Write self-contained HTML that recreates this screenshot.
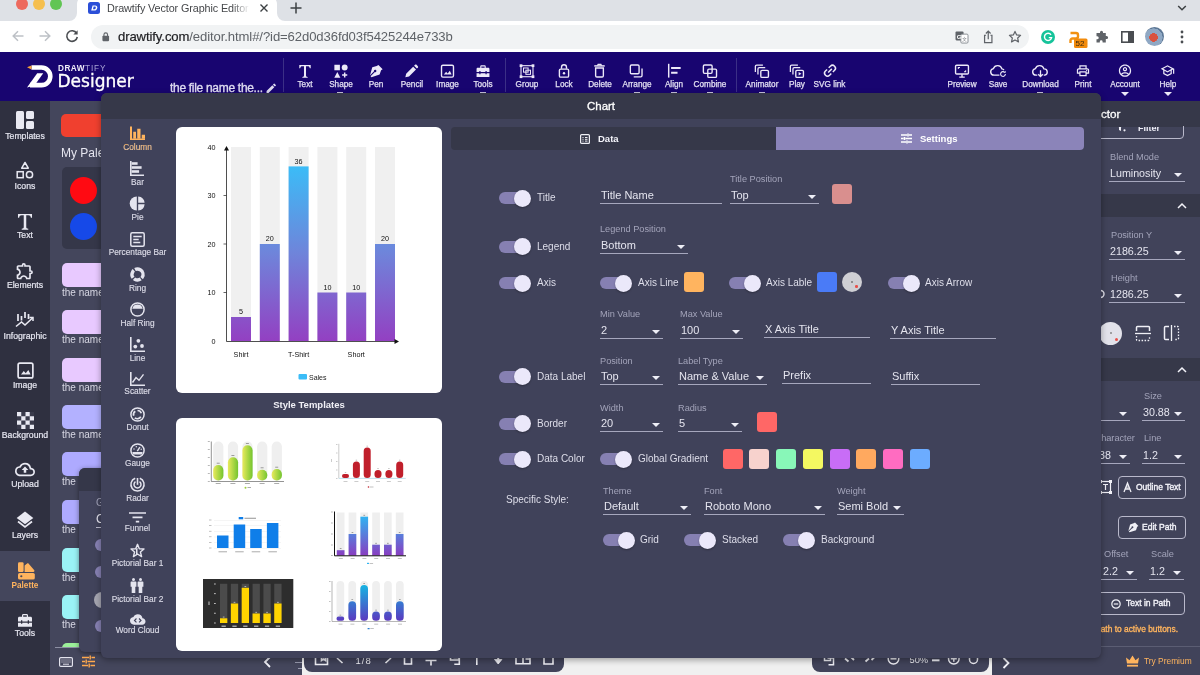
<!DOCTYPE html>
<html lang="en">
<head>
<meta charset="utf-8">
<title>Drawtify Vector Graphic Editor</title>
<style>
*{box-sizing:border-box;margin:0;padding:0}
html,body{width:1200px;height:675px;overflow:hidden;background:#fff;font-family:"Liberation Sans",sans-serif;}
#root{position:relative;width:1200px;height:675px;overflow:hidden;background:#efefef}
.abs{position:absolute}
svg{display:block;overflow:visible}
/* browser chrome */
#tabstrip{position:absolute;left:0;top:0;width:1200px;height:21px;background:#dee1e6}
#tab{position:absolute;left:77px;top:-4px;width:200px;height:26px;background:#fff;border-radius:8px 8px 0 0}
#tabtitle{position:absolute;left:107px;top:0px;font-size:10.800px;line-height:16px;color:#45474a;white-space:nowrap;letter-spacing:-0.1px}
#toolbar{position:absolute;left:0;top:21px;width:1200px;height:31px;background:#fff}
#urlpill{position:absolute;left:91px;top:25px;width:938px;height:24px;border-radius:12px;background:#f1f3f4}
#url{position:absolute;left:118px;top:28px;font-size:13.100px;line-height:17px;color:#202124;-webkit-text-stroke:.2px #202124;white-space:nowrap;letter-spacing:-0.1px}
#url span{color:#5f6368;-webkit-text-stroke:0}
/* app header */
#hdr{position:absolute;left:0;top:52px;width:1200px;height:49px;background:#180570}
.tool{position:absolute;top:78.300px;font-size:8.200px;line-height:14px;color:#e2dff2;-webkit-text-stroke:.25px #e2dff2;white-space:nowrap;transform:translateX(-50%);text-align:center}
.ticon{position:absolute;transform:translateY(.7px) scale(.92)}
.vdiv{position:absolute;top:58px;width:1px;height:34px;background:#3b2f86}
/* sidebar */
#side{position:absolute;left:0;top:101px;width:50px;height:574px;background:#2f3040}
.sl{position:absolute;left:0;width:50px;text-align:center;font-size:8.700px;line-height:12px;color:#e6e6f0;-webkit-text-stroke:.2px #e6e6f0;white-space:nowrap}
#pal{position:absolute;left:50px;top:101px;width:252px;height:574px;background:#44465c}
.pn{position:absolute;left:62px;font-size:10px;line-height:13px;color:#d8d8e4;white-space:nowrap}
.psw{position:absolute;left:62px;width:60px;height:24px;border-radius:5px}
/* modal */
#modal{position:absolute;left:101px;top:92.500px;width:1000px;height:565px;background:#40425a;border-radius:6px;overflow:hidden;box-shadow:0 2px 6px rgba(0,0,0,.35)}
#mtitle{position:absolute;left:0;top:0;width:1000px;height:26px;background:#363849;color:#fff;font-size:11.500px;line-height:26px;text-align:center;-webkit-text-stroke:.3px #fff}
.ct{position:absolute;left:100.500px;width:74px;text-align:center;font-size:8.300px;line-height:12px;color:#dcdce8;-webkit-text-stroke:.15px #dcdce8;white-space:nowrap}
.card{position:absolute;background:#fff;border-radius:6px}
.tg{position:absolute;width:29px;height:18px}
.tg i{position:absolute;left:0;top:2.700px;width:28px;height:12px;border-radius:6px;background:#8680b2}
.tg b{position:absolute;left:14.600px;top:.2px;width:17.200px;height:17.200px;border-radius:50%;background:#ebe8fa;box-shadow:0 1px 2px rgba(0,0,0,.3)}
.lb{position:absolute;font-size:10px;line-height:14px;color:#dedeea;white-space:nowrap}
.sm{position:absolute;margin-top:.6px;font-size:9.200px;line-height:12px;color:#a3a4ba;white-space:nowrap}
.inp{position:absolute;height:18px;border-bottom:1.200px solid #a6a7bd;font-size:11px;line-height:16px;color:#e4e4ee;white-space:nowrap;padding:1px 0 0 1px}
.inp.sel:after{content:"";position:absolute;right:3px;top:9px;border:4px solid transparent;border-top:4px solid #eeeef6;border-bottom:0}
.sw{position:absolute;width:20px;height:20px;border-radius:3px}
/* right panel */
#rp{position:absolute;left:1101px;top:101px;width:99px;height:574px;background:#41435a}
</style>
</head>
<body>
<div id="root">
<!--CHROME-->
<div id="tabstrip"></div>
<div id="tab"></div>
<svg class="abs" style="left:69px;top:13px" width="8" height="8"><path d="M8 0v8H0a8 8 0 0 0 8-8z" fill="#fff"/></svg>
<svg class="abs" style="left:277px;top:13px" width="8" height="8"><path d="M0 0v8h8a8 8 0 0 1-8-8z" fill="#fff"/></svg>
<div class="abs" style="left:16px;top:-2px;width:12px;height:12px;border-radius:50%;background:#ed6a5e"></div>
<div class="abs" style="left:33px;top:-2px;width:12px;height:12px;border-radius:50%;background:#f5bf4f"></div>
<div class="abs" style="left:50px;top:-2px;width:12px;height:12px;border-radius:50%;background:#61c554"></div>
<svg class="abs" style="left:88px;top:2px" width="12" height="12" viewBox="0 0 12 12"><rect width="12" height="12" rx="2.5" fill="#2b4fd8"/><path d="M3.2 8.6 4.6 3.4h2.6c1.5 0 2.4 1 2.1 2.6-.3 1.600-1.500 2.600-3.100 2.600zM5.600 4.600 5 7.300h1.200c.8 0 1.400-.5 1.600-1.400.1-.800-.3-1.300-1.100-1.300z" fill="#fff"/></svg>
<div id="tabtitle">Drawtify Vector Graphic Editor</div>
<div class="abs" style="left:232px;top:0;width:22px;height:18px;background:linear-gradient(90deg,rgba(255,255,255,0),#fff 80%)"></div>
<svg class="abs" style="left:259px;top:3px" width="10" height="10" viewBox="0 0 10 10"><path d="M1.500 1.500l7 7M8.500 1.500l-7 7" stroke="#3c4043" stroke-width="1.400" fill="none"/></svg>
<svg class="abs" style="left:290px;top:2px" width="12" height="12" viewBox="0 0 12 12"><path d="M6 .5v11M.5 6h11" stroke="#3c4043" stroke-width="1.500" fill="none"/></svg>
<svg class="abs" style="left:1177px;top:4px" width="10" height="8" viewBox="0 0 10 8"><path d="M1.200 2l3.800 3.800L8.800 2" stroke="#3c4043" stroke-width="1.500" fill="none"/></svg>
<div id="toolbar"></div>
<svg class="abs" style="left:12px;top:30px" width="12" height="12" viewBox="0 0 12 12"><path d="M11.500 6H1.500M6 1.200 1.200 6 6 10.800" stroke="#bdc1c6" stroke-width="1.500" fill="none"/></svg>
<svg class="abs" style="left:39px;top:30px" width="12" height="12" viewBox="0 0 12 12"><path d="M.5 6h10M6 1.200 10.800 6 6 10.800" stroke="#bdc1c6" stroke-width="1.500" fill="none"/></svg>
<svg class="abs" style="left:65px;top:29px" width="14" height="14" viewBox="0 0 14 14"><path d="M11.600 4.200A5.300 5.300 0 1 0 12.300 8" stroke="#4a4d51" stroke-width="1.600" fill="none"/><path d="M12.600 1.200v4.200H8.400z" fill="#4a4d51"/></svg>
<div id="urlpill"></div>
<svg class="abs" style="left:101.500px;top:32px" width="7.500" height="9.200" viewBox="0 0 9 11"><rect x=".5" y="4.500" width="8" height="6.500" rx="1" fill="#5f6368"/><path d="M2.300 5V3.200a2.200 2.200 0 0 1 4.400 0V5" stroke="#5f6368" stroke-width="1.300" fill="none"/></svg>
<div id="url">drawtify.com<span>/editor.html#/?id=62d0d36fd03f5425244e733b</span></div>
<!-- right icons -->
<svg class="abs" style="left:955px;top:31px" width="13.500" height="12.500" viewBox="0 0 15 14"><rect x=".5" y=".5" width="9" height="10" rx="1.200" fill="#5f6368"/><rect x="6.500" y="3.500" width="8" height="10" rx="1.200" fill="#fff" stroke="#80868b" stroke-width="1"/><text x="2" y="8.500" font-size="7" font-weight="700" fill="#fff" font-family="Liberation Sans, sans-serif">G</text><text x="8.300" y="11.500" font-size="6" fill="#5f6368" font-family="Liberation Sans, sans-serif">文</text></svg>
<svg class="abs" style="left:983px;top:30px" width="10.500" height="14" viewBox="0 0 12 16"><path d="M3.500 6H1.800v8.500h8.400V6H8.500" stroke="#5f6368" stroke-width="1.400" fill="none"/><path d="M6 10.500V1.500M3.300 4 6 1.300 8.700 4" stroke="#5f6368" stroke-width="1.400" fill="none"/></svg>
<svg class="abs" style="left:1008px;top:30px" width="14" height="13" viewBox="0 0 16 15"><path d="M8 1.600l1.900 4.100 4.500.5-3.300 3.100.9 4.400L8 11.500l-4 2.200.9-4.400L1.600 6.200l4.500-.5z" stroke="#5f6368" stroke-width="1.400" fill="none" stroke-linejoin="round"/></svg>
<svg class="abs" style="left:1041px;top:30px" width="14" height="14" viewBox="0 0 14 14"><circle cx="7" cy="7" r="7" fill="#15c39a"/><path d="M10 4.800A3.600 3.600 0 1 0 10.600 7.600H7.800" stroke="#fff" stroke-width="1.400" fill="none"/></svg>
<svg class="abs" style="left:1068px;top:30px" width="20" height="19" viewBox="0 0 20 19"><path d="M2.500 3h5.500a2 2 0 0 1 2 2v1.500a2 2 0 0 1-2 2H4.500a2 2 0 0 0-2 2V13" stroke="#f29111" stroke-width="2.400" fill="none"/><rect x="6" y="8.500" width="13.500" height="9.500" rx="1.500" fill="#f28b0c"/><text x="7.600" y="16.300" font-size="8" fill="#3a2a10" font-family="Liberation Sans, sans-serif">52</text></svg>
<svg class="abs" style="left:1095px;top:30px" width="14" height="14" viewBox="0 0 14 14"><path d="M5 2.200a1.500 1.500 0 0 1 3 0V3h2.800v3h.800a1.500 1.500 0 0 1 0 3h-.8v3.500H7.600v-.8a1.400 1.400 0 0 0-2.800 0v.8H1.500V9.200h.7a1.500 1.500 0 0 0 0-3h-.7V3H5z" fill="#5f6368"/></svg>
<svg class="abs" style="left:1121px;top:31px" width="13" height="12" viewBox="0 0 13 12"><rect x=".8" y=".8" width="11.400" height="10.400" stroke="#4a4d51" stroke-width="1.600" fill="#fff"/><rect x="7" y="1" width="5" height="10" fill="#4a4d51"/></svg>
<div class="abs" style="left:1145px;top:27px;width:19px;height:19px;border-radius:50%;background:radial-gradient(circle at 45% 55%,#d9523f 0 28%,#8fa8c4 30% 60%,#5d7896 62%)"></div>
<svg class="abs" style="left:1180px;top:30px" width="4" height="14" viewBox="0 0 4 14"><circle cx="2" cy="2" r="1.400" fill="#4a4d51"/><circle cx="2" cy="7" r="1.400" fill="#4a4d51"/><circle cx="2" cy="12" r="1.400" fill="#4a4d51"/></svg>
<!--/CHROME-->
<!--HEADER-->
<div id="hdr"></div>
<!-- logo -->
<svg class="abs" style="left:26px;top:64px" width="30" height="24" viewBox="0 0 30 24"><path d="M5.500 3.500H15.500A8.800 8.800 0 0 1 15.500 21.100H4" stroke="#fff" stroke-width="4.600" fill="none"/><path d="M1 23.400L11.200 9.200h6L8.500 21.500z" fill="#fff"/><path d="M1 3.300L5.500 1.400v4.200z" fill="#f6a23c"/></svg>
<div class="abs" id="lg1" style="left:58px;top:63.500px;font-size:8.200px;line-height:10px;color:#f1effa;font-weight:700;letter-spacing:0.500px;white-space:nowrap">DRAW<span style="font-weight:400;color:#a9a3d6;letter-spacing:0.900px">TIFY</span></div>
<div class="abs" id="lg2" style="left:57.500px;top:68.600px;font-family:'DejaVu Sans','Liberation Sans',sans-serif;font-size:17px;line-height:24px;color:#fff;white-space:nowrap;letter-spacing:0;-webkit-text-stroke:0.350px #fff">Designer</div>
<div class="abs" id="fname" style="left:170px;top:81.300px;font-size:12px;line-height:14px;color:#dedbf0;white-space:nowrap;letter-spacing:-0.300px;-webkit-text-stroke:.35px #dedbf0">the file name the...</div>
<svg class="abs" style="left:265px;top:81.500px" width="12.500" height="12.500" viewBox="0 0 24 24"><path d="M3 17.250V21h3.750L17.810 9.940l-3.750-3.750L3 17.250zM20.710 7.040a.996.996 0 0 0 0-1.410l-2.340-2.340a.996.996 0 0 0-1.410 0l-1.830 1.830 3.750 3.750 1.830-1.830z" fill="#dedbf0"/></svg>
<div class="vdiv" style="left:283px"></div>
<div class="vdiv" style="left:505px"></div>
<div class="vdiv" style="left:736px"></div>
<!-- tool icons -->
<svg class="ticon" style="left:298px;top:63px" width="14" height="15" viewBox="0 0 14 15"><path d="M.8.800h12.400v3.400h-1c-.2-1.500-.8-2.200-2.300-2.200H8.100v10.300c0 1 .4 1.400 1.800 1.500v.9H4.100v-.9c1.400-.1 1.800-.5 1.800-1.500V2H4.100C2.600 2 2 2.700 1.800 4.200h-1z" fill="#ece9f8"/></svg>
<svg class="ticon" style="left:333px;top:63px" width="16" height="15" viewBox="0 0 16 15"><rect x=".8" y=".5" width="6" height="6" fill="#ece9f8"/><circle cx="12" cy="3.500" r="3.200" fill="#ece9f8"/><path d="M4 8.500l3.300 6H.7z" fill="#ece9f8"/><path d="M12 8.800v5.600M9.200 11.600h5.600" stroke="#ece9f8" stroke-width="1.600" fill="none"/></svg>
<svg class="ticon" style="left:369px;top:63px" width="15" height="15" viewBox="0 0 15 15"><path d="M9.600.8l4.600 4.600-1.700 1.100-1.600 4.700L2 14l-.9-.9L5.800 8.500a1.300 1.300 0 1 0-1-.9L.4 12.200l2.500-8.900 4.800-1.500z" fill="#ece9f8"/></svg>
<svg class="ticon" style="left:404px;top:63px" width="15" height="15" viewBox="0 0 15 15"><path d="M.8 14.200l.9-4 7.600-7.600 3.100 3.100-7.600 7.600zM10.300 1.600l1-1c.5-.5 1.200-.5 1.700 0l1.400 1.400c.5.500.5 1.200 0 1.700l-1 1z" fill="#ece9f8"/></svg>
<svg class="ticon" style="left:440px;top:63px" width="15" height="15" viewBox="0 0 15 15"><rect x="1" y="1" width="13" height="13" rx="1.500" stroke="#ece9f8" stroke-width="1.500" fill="none"/><path d="M3.500 11l2.500-3 1.700 2 2.300-3 2 4z" fill="#ece9f8"/></svg>
<svg class="ticon" style="left:475px;top:63px" width="16" height="15" viewBox="0 0 16 15"><path d="M5 3.800V2.500c0-.8.600-1.400 1.400-1.400h3.200c.8 0 1.400.6 1.400 1.400v1.300h2.600c.8 0 1.400.6 1.400 1.400v3.300h-3V7.300h-1.300v1.200H5.300V7.300H4v1.200H1V5.200c0-.8.600-1.400 1.400-1.400zm1.200 0h3.600V2.300H6.200zM1 9.700h3v1.100h1.300V9.700h5.400v1.100H12V9.700h3v4.100H1z" fill="#ece9f8"/></svg>
<svg class="ticon" style="left:519px;top:63px" width="16" height="15" viewBox="0 0 16 15"><rect x="1.500" y="1.500" width="13" height="12" stroke="#ece9f8" stroke-width="1.200" fill="none"/><rect x="4.200" y="4" width="5" height="4.500" stroke="#ece9f8" stroke-width="1.100" fill="none"/><rect x="6.800" y="6.400" width="5" height="4.500" stroke="#ece9f8" stroke-width="1.100" fill="none"/><rect x="0" y="0" width="3" height="3" fill="#ece9f8"/><rect x="13" y="0" width="3" height="3" fill="#ece9f8"/><rect x="0" y="12" width="3" height="3" fill="#ece9f8"/><rect x="13" y="12" width="3" height="3" fill="#ece9f8"/></svg>
<svg class="ticon" style="left:558px;top:62px" width="12" height="16" viewBox="0 0 12 16"><rect x="1" y="6.300" width="10" height="8.700" rx="1.300" stroke="#ece9f8" stroke-width="1.500" fill="none"/><path d="M3.300 6V4.200a2.700 2.700 0 0 1 5.400 0V6" stroke="#ece9f8" stroke-width="1.500" fill="none"/><circle cx="6" cy="10.700" r="1.300" fill="#ece9f8"/></svg>
<svg class="ticon" style="left:593px;top:62px" width="13" height="16" viewBox="0 0 13 16"><path d="M.8 2.800h11.400" stroke="#ece9f8" stroke-width="1.600"/><path d="M4.300 2.500l.7-1.400h3l.7 1.400" stroke="#ece9f8" stroke-width="1.300" fill="none"/><path d="M2.300 5v8.500c0 .8.600 1.400 1.400 1.400h5.600c.8 0 1.400-.6 1.400-1.400V5z" stroke="#ece9f8" stroke-width="1.500" fill="none"/></svg>
<svg class="ticon" style="left:629px;top:63px" width="15" height="15" viewBox="0 0 15 15"><rect x=".8" y=".8" width="9.500" height="9.500" rx="1.300" stroke="#ece9f8" stroke-width="1.500" fill="none"/><path d="M13.500 4.500v7.800c0 .8-.6 1.400-1.400 1.400H4.500" stroke="#ece9f8" stroke-width="1.500" fill="none"/></svg>
<svg class="ticon" style="left:667px;top:62px" width="15" height="16" viewBox="0 0 15 16"><path d="M1.200.5v15" stroke="#ece9f8" stroke-width="1.600"/><path d="M3.800 5h10.400M3.800 10.300h7" stroke="#ece9f8" stroke-width="2.200"/></svg>
<svg class="ticon" style="left:702px;top:63px" width="16" height="15" viewBox="0 0 16 15"><rect x=".8" y=".8" width="9.500" height="9" rx="1.300" stroke="#ece9f8" stroke-width="1.500" fill="none"/><rect x="5.600" y="5.200" width="9.500" height="9" rx="1.300" stroke="#ece9f8" stroke-width="1.500" fill="none"/></svg>
<svg class="ticon" style="left:754px;top:63px" width="16" height="15" viewBox="0 0 16 15"><path d="M.8 8.500V2.200C.8 1.400 1.400.8 2.200.8H9" stroke="#ece9f8" stroke-width="1.400" fill="none"/><path d="M3.600 11V5c0-.8.600-1.400 1.400-1.400h6.500" stroke="#ece9f8" stroke-width="1.400" fill="none"/><rect x="6.700" y="6.600" width="8.300" height="7.600" rx="1.300" stroke="#ece9f8" stroke-width="1.500" fill="none"/></svg>
<svg class="ticon" style="left:789px;top:63px" width="16" height="15" viewBox="0 0 16 15"><path d="M.8 8.500V2.200C.8 1.400 1.400.8 2.200.8H9" stroke="#ece9f8" stroke-width="1.400" fill="none"/><path d="M3.600 11V5c0-.8.600-1.400 1.400-1.400h6.500" stroke="#ece9f8" stroke-width="1.400" fill="none"/><rect x="6.700" y="6.600" width="8.300" height="7.600" rx="1.300" stroke="#ece9f8" stroke-width="1.500" fill="none"/><path d="M9.800 8.500l3 1.900-3 1.900z" fill="#ece9f8"/></svg>
<svg class="ticon" style="left:822px;top:62px" width="16" height="16" viewBox="0 0 16 16"><g transform="rotate(-45 8 8)" stroke="#ece9f8" stroke-width="1.600" fill="none"><path d="M6.800 4.800H4.200a3.200 3.200 0 0 0 0 6.400h2.600M9.200 4.800h2.600a3.200 3.200 0 0 1 0 6.400H9.200M5.200 8h5.600"/></g></svg>
<svg class="ticon" style="left:954px;top:63px" width="16" height="15" viewBox="0 0 16 15"><rect x="1" y="1" width="14" height="9.600" rx="1.200" stroke="#ece9f8" stroke-width="1.500" fill="none"/><path d="M5 14h6M8 10.800V14" stroke="#ece9f8" stroke-width="1.500"/><path d="M4 5.200V3.600h1.800M12 6.400V8h-1.800" stroke="#ece9f8" stroke-width="1.100" fill="none"/></svg>
<svg class="ticon" style="left:989px;top:63px" width="19" height="15" viewBox="0 0 19 15"><path d="M10.500 11.800H4.600a3.600 3.600 0 0 1-.6-7.150A4.800 4.800 0 0 1 13.200 5a3.300 3.300 0 0 1 2.300 1.200" stroke="#ece9f8" stroke-width="1.500" fill="none"/><path d="M17 10.600a2.600 2.600 0 1 1-.8-1.900" stroke="#ece9f8" stroke-width="1.200" fill="none"/><path d="M17.300 7v2.200h-2.200z" fill="#ece9f8"/></svg>
<svg class="ticon" style="left:1031px;top:63px" width="19" height="15" viewBox="0 0 19 15"><path d="M6 11.800H4.600a3.600 3.600 0 0 1-.6-7.150A4.800 4.800 0 0 1 13.200 5a3.400 3.400 0 0 1 1 6.700L13 11.800" stroke="#ece9f8" stroke-width="1.500" fill="none"/><path d="M9.500 6.500v6.500M7 10.800l2.500 2.500 2.500-2.500" stroke="#ece9f8" stroke-width="1.400" fill="none"/></svg>
<svg class="ticon" style="left:1075px;top:62px" width="16" height="16" viewBox="0 0 24 24"><path d="M19 8h-1V3H6v5H5c-1.660 0-3 1.340-3 3v6h4v4h12v-4h4v-6c0-1.660-1.340-3-3-3zM8 5h8v3H8V5zm8 14H8v-4h8v4zm4-4h-2v-2H6v2H4v-4c0-.550.450-1 1-1h14c.550 0 1 .450 1 1v4z" fill="#ece9f8"/><circle cx="18" cy="11.500" r="1" fill="#ece9f8"/></svg>
<svg class="ticon" style="left:1117px;top:62px" width="16" height="16" viewBox="0 0 24 24"><path d="M12 2C6.480 2 2 6.480 2 12s4.480 10 10 10 10-4.480 10-10S17.520 2 12 2zM7.070 18.280c.430-.900 3.050-1.780 4.930-1.780s4.510.880 4.930 1.780A7.893 7.893 0 0 1 12 20c-1.860 0-3.570-.640-4.930-1.720zm11.290-1.450c-1.430-1.740-4.900-2.330-6.360-2.330s-4.930.590-6.360 2.330A7.950 7.950 0 0 1 4 12c0-4.410 3.590-8 8-8s8 3.590 8 8c0 1.820-.620 3.490-1.640 4.830zM12 6c-1.940 0-3.500 1.560-3.500 3.500S10.060 13 12 13s3.500-1.560 3.500-3.500S13.940 6 12 6zm0 5c-.830 0-1.500-.670-1.500-1.500S11.170 8 12 8s1.500.670 1.500 1.500S12.830 11 12 11z" fill="#ece9f8"/></svg>
<svg class="ticon" style="left:1159px;top:62px" width="17" height="16" viewBox="0 0 24 24"><path d="M12 3L1 9l4 2.180v6L12 21l7-3.820v-6l2-1.090V17h2V9L12 3zm6.820 6L12 12.720 5.180 9 12 5.280 18.820 9zM17 15.990l-5 2.730-5-2.730v-3.720L12 15l5-2.730v3.720z" fill="#ece9f8"/></svg>
<svg class="abs" style="left:1121px;top:92px" width="8" height="4"><path d="M0 0h8L4 4z" fill="#ece9f8"/></svg>
<svg class="abs" style="left:1164px;top:92px" width="8" height="4"><path d="M0 0h8L4 4z" fill="#ece9f8"/></svg>
<div class="abs" style="left:337px;top:91.500px;width:6px;height:1.500px;background:#c9c5de"></div><div class="abs" style="left:480px;top:91.500px;width:6px;height:1.500px;background:#c9c5de"></div><div class="abs" style="left:634px;top:91.500px;width:6px;height:1.500px;background:#c9c5de"></div><div class="abs" style="left:671px;top:91.500px;width:6px;height:1.500px;background:#c9c5de"></div><div class="abs" style="left:707px;top:91.500px;width:6px;height:1.500px;background:#c9c5de"></div><div class="abs" style="left:759px;top:91.500px;width:6px;height:1.500px;background:#c9c5de"></div><div class="abs" style="left:1037px;top:91.500px;width:6px;height:1.500px;background:#c9c5de"></div>
<!-- tool labels -->
<div class="tool" style="left:305px">Text</div>
<div class="tool" style="left:341px">Shape</div>
<div class="tool" style="left:376px">Pen</div>
<div class="tool" style="left:412px">Pencil</div>
<div class="tool" style="left:447.500px">Image</div>
<div class="tool" style="left:483px">Tools</div>
<div class="tool" style="left:527px">Group</div>
<div class="tool" style="left:564px">Lock</div>
<div class="tool" style="left:600px">Delete</div>
<div class="tool" style="left:637px">Arrange</div>
<div class="tool" style="left:674px">Align</div>
<div class="tool" style="left:710px">Combine</div>
<div class="tool" style="left:762px">Animator</div>
<div class="tool" style="left:797px">Play</div>
<div class="tool" style="left:829.500px">SVG link</div>
<div class="tool" style="left:962px">Preview</div>
<div class="tool" style="left:998px">Save</div>
<div class="tool" style="left:1040.500px">Download</div>
<div class="tool" style="left:1083px">Print</div>
<div class="tool" style="left:1125px">Account</div>
<div class="tool" style="left:1168px">Help</div>
<!--/HEADER-->

<!--PALETTE-->
<div id="pal"></div>
<div class="abs" style="left:61px;top:114px;width:60px;height:23px;border-radius:5px;background:#f0402f"></div>
<div class="abs" style="left:61px;top:145px;font-size:12px;line-height:16px;color:#e6e6f0;white-space:nowrap">My Palette</div>
<div class="abs" style="left:62px;top:167px;width:60px;height:82px;border-radius:5px;background:#353749"></div>
<div class="abs" style="left:69.500px;top:176.500px;width:27px;height:27px;border-radius:50%;background:#ff0a12"></div>
<div class="abs" style="left:69.500px;top:212.500px;width:27px;height:27px;border-radius:50%;background:#1649e8"></div>
<div class="psw" style="top:263px;background:#e8c9ff"></div><div class="pn" style="top:286px">the name</div>
<div class="psw" style="top:310px;background:#e8c9ff"></div><div class="pn" style="top:333px">the name</div>
<div class="psw" style="top:358px;background:#e8c9ff"></div><div class="pn" style="top:381px">the name</div>
<div class="psw" style="top:405px;background:#b3b1ff"></div><div class="pn" style="top:428px">the name</div>
<div class="psw" style="top:452px;background:#aeaaff"></div><div class="pn" style="top:475px">the name</div>
<div class="psw" style="top:500px;background:#aeaaff"></div><div class="pn" style="top:523px">the name</div>
<div class="psw" style="top:548px;background:#9af3f6"></div><div class="pn" style="top:571px">the name</div>
<div class="psw" style="top:595px;background:#9af3f6"></div><div class="pn" style="top:618px">the name</div>
<div class="psw" style="top:643px;background:#9cf09a;height:5px;border-radius:5px 5px 0 0"></div>
<div class="abs" style="left:55px;top:647px;width:50px;height:1px;background:#8d8fa3"></div>
<div class="abs" style="left:50px;top:648px;width:252px;height:27px;background:#44465c"></div>
<!-- second floating panel -->
<div class="abs" style="left:79px;top:468px;width:60px;height:184px;border-radius:6px;background:#41435b;box-shadow:0 1px 5px rgba(0,0,0,.45);overflow:hidden"><div style="height:23px;background:#353749"></div></div>
<div class="abs" style="left:96px;top:497px;font-size:10px;line-height:12px;color:#a3a4ba">G</div>
<div class="abs" style="left:96px;top:512px;font-size:12px;line-height:15px;color:#e4e4ee;border-bottom:1px solid #b9b9cb">C</div>
<div class="abs" style="left:95px;top:539px;width:12px;height:12px;border-radius:50%;background:#8680b2"></div>
<div class="abs" style="left:95px;top:566px;width:12px;height:12px;border-radius:50%;background:#8680b2"></div>
<div class="abs" style="left:94px;top:592px;width:16px;height:16px;border-radius:50%;background:#a5a5b0"></div>
<div class="abs" style="left:95px;top:620px;width:12px;height:12px;border-radius:50%;background:#8680b2"></div>
<!-- bottom-left icons -->
<svg class="abs" style="left:59px;top:657px" width="14" height="10" viewBox="0 0 14 10"><rect x=".6" y=".6" width="12.800" height="8.800" rx="1.200" stroke="#e4e4ee" stroke-width="1.200" fill="none"/><path d="M2.500 3h1M4.500 3h1M6.500 3h1M8.500 3h1M10.500 3h1M2.500 5h1M4.500 5h1M6.500 5h1M8.500 5h1M10.500 5h1M4 7.200h6" stroke="#e4e4ee" stroke-width="1"/></svg>
<svg class="abs" style="left:82px;top:655px" width="13" height="13" viewBox="0 0 13 13"><path d="M0 2.500h7M9.500 2.500H13M0 6.500h3M5.500 6.500H13M0 10.500h6M8.500 10.500H13M8.200.5v4M4.200 4.500v4M7.200 8.500v4" stroke="#ffa94d" stroke-width="1.400" fill="none"/></svg>
<!--/PALETTE-->
<!--SIDEBAR-->
<div id="side"></div>
<div class="abs" style="left:0;top:551px;width:50px;height:50px;background:#44465c"></div>
<!-- sidebar icons -->
<svg class="abs" style="left:16px;top:111px" width="18" height="18" viewBox="0 0 18 18"><rect x="0" y="0" width="8" height="18" rx="1.500" fill="#e9e9f2"/><rect x="10" y="0" width="8" height="8" rx="1.500" fill="#e9e9f2"/><rect x="10" y="10" width="8" height="8" rx="1.500" fill="#e9e9f2"/></svg>
<svg class="abs" style="left:16px;top:161px" width="18" height="18" viewBox="0 0 18 18"><path d="M9 1.500l3.300 5.700H5.700z" stroke="#e9e9f2" stroke-width="1.500" fill="none" stroke-linejoin="round"/><rect x="1.200" y="10.700" width="6" height="6" stroke="#e9e9f2" stroke-width="1.500" fill="none"/><circle cx="13.500" cy="13.700" r="3.100" stroke="#e9e9f2" stroke-width="1.500" fill="none"/></svg>
<svg class="abs" style="left:16px;top:213px" width="18" height="17" viewBox="0 0 14 15"><path d="M.8.800h12.400v3.400h-1c-.2-1.500-.8-2.200-2.300-2.200H8.100v10.300c0 1 .4 1.400 1.800 1.500v.9H4.100v-.9c1.400-.1 1.800-.5 1.800-1.500V2H4.100C2.600 2 2 2.700 1.800 4.200h-1z" fill="#e9e9f2"/></svg>
<svg class="abs" style="left:15px;top:261px" width="20" height="20" viewBox="0 0 24 24"><path d="M10.500 4.500c.280 0 .5.220.5.500v2h6v6h2c.280 0 .5.220.5.500s-.22.500-.5.500h-2v6h-2.120c-.680-1.750-2.390-3-4.380-3s-3.700 1.250-4.380 3H4v-2.120c1.750-.680 3-2.390 3-4.380 0-1.990-1.240-3.700-2.990-4.380L4 7h6V5c0-.280.220-.500.500-.500m0-2A2.500 2.500 0 0 0 8 5H4c-1.100 0-1.990.900-1.990 2v3.800h.290c1.490 0 2.700 1.210 2.700 2.700s-1.210 2.700-2.700 2.700H2V20c0 1.100.9 2 2 2h3.800v-.3c0-1.490 1.210-2.700 2.700-2.700s2.700 1.210 2.700 2.700v.3H17c1.100 0 2-.9 2-2v-4a2.500 2.500 0 0 0 0-5V7c0-1.100-.9-2-2-2h-4a2.500 2.500 0 0 0-2.500-2.500z" fill="#e9e9f2"/></svg>
<svg class="abs" style="left:15px;top:311px" width="20" height="18" viewBox="0 0 20 18"><path d="M3 3v7M6.500 5v4.500M10 1v6M13.500 3v5" stroke="#e9e9f2" stroke-width="1.700" fill="none"/><path d="M1 15.500l5.500-4.500 3.500 3 7.500-7" stroke="#e9e9f2" stroke-width="1.600" fill="none"/><path d="M14.500 6.500h3.500V10" stroke="#e9e9f2" stroke-width="1.500" fill="none"/></svg>
<svg class="abs" style="left:17px;top:362px" width="17" height="17" viewBox="0 0 15 15"><rect x="1" y="1" width="13" height="13" rx="1.500" stroke="#e9e9f2" stroke-width="1.500" fill="none"/><path d="M3.500 11l2.500-3 1.700 2 2.300-3 2 4z" fill="#e9e9f2"/></svg>
<svg class="abs" style="left:17px;top:412px" width="17" height="17" viewBox="0 0 16 16"><rect width="16" height="16" fill="#e9e9f2"/><g fill="#3a3b4c"><rect x="4" y="0" width="4" height="4"/><rect x="12" y="0" width="4" height="4"/><rect x="0" y="4" width="4" height="4"/><rect x="8" y="4" width="4" height="4"/><rect x="4" y="8" width="4" height="4"/><rect x="12" y="8" width="4" height="4"/><rect x="0" y="12" width="4" height="4"/><rect x="8" y="12" width="4" height="4"/></g></svg>
<svg class="abs" style="left:15px;top:462px" width="20" height="15" viewBox="0 0 24 18"><path d="M19.350 7.040A7.490 7.490 0 0 0 12 1C9.110 1 6.600 2.640 5.350 5.040A5.994 5.994 0 0 0 0 11c0 3.310 2.690 6 6 6h13c2.760 0 5-2.240 5-5 0-2.640-2.050-4.780-4.650-4.960zM19 15H6c-2.210 0-4-1.790-4-4 0-2.050 1.530-3.760 3.560-3.970l1.070-.11.500-.95A5.469 5.469 0 0 1 12 3c2.620 0 4.880 1.860 5.390 4.430l.3 1.500 1.530.11A2.980 2.980 0 0 1 22 12c0 1.650-1.350 3-3 3z" fill="#e9e9f2"/><path d="M12 5.500l4 4.200h-2.500V13h-3V9.700H8z" fill="#e9e9f2"/></svg>
<svg class="abs" style="left:16px;top:511px" width="18" height="18" viewBox="0 0 18 18"><path d="M9 .5l8.300 6.400L9 13.300.7 6.900z" fill="#e9e9f2"/><path d="M2 10.500L9 16l7-5.500" stroke="#e9e9f2" stroke-width="1.700" fill="none"/></svg>
<svg class="abs" style="left:16.500px;top:562px" width="19" height="18" viewBox="0 0 19 18"><g fill="#ffb45e"><rect x="1" y=".3" width="5.600" height="9.700" rx="1.300"/><path d="M7.600 3.400l2.500-1.900c.5-.4 1.200-.3 1.600.2l5.600 6.500c.3.400.2.900-.1 1.200l-.7.600H7.600z"/><rect x="1" y="10.900" width="16.800" height="6.700" rx="1.700"/></g><circle cx="4.300" cy="14.250" r="1.100" fill="#44465c"/></svg>
<svg class="abs" style="left:16px;top:613px" width="18" height="15" viewBox="0 0 16 15"><path d="M5 3.800V2.500c0-.8.600-1.400 1.400-1.400h3.200c.8 0 1.400.6 1.400 1.400v1.300h2.600c.8 0 1.400.6 1.400 1.400v3.300h-3V7.300h-1.300v1.200H5.300V7.300H4v1.200H1V5.200c0-.8.600-1.400 1.400-1.400zm1.200 0h3.600V2.300H6.200zM1 9.700h3v1.100h1.300V9.700h5.400v1.100H12V9.700h3v4.100H1z" fill="#e9e9f2"/></svg>
<div class="sl" style="top:130px">Templates</div>
<div class="sl" style="top:180px">Icons</div>
<div class="sl" style="top:229px">Text</div>
<div class="sl" style="top:279px">Elements</div>
<div class="sl" style="top:330px">Infographic</div>
<div class="sl" style="top:379px">Image</div>
<div class="sl" style="top:429px">Background</div>
<div class="sl" style="top:478px">Upload</div>
<div class="sl" style="top:529px">Layers</div>
<div class="sl" style="top:579.500px;color:#ffb45e;font-weight:700;font-size:8.200px;-webkit-text-stroke:0">Palette</div>
<div class="sl" style="top:627px">Tools</div>
<!--/SIDEBAR-->
<!--BOTTOM-->
<div class="abs" style="left:302px;top:648px;width:690px;height:27px;background:#f0f0f0"></div>
<div class="abs" style="left:296px;top:655px;width:6px;height:20px;background:#44465c"></div>
<div class="abs" style="left:295px;top:662px;width:7px;height:1px;background:#9a9cb0"></div>
<div class="abs" style="left:298px;top:668px;width:4px;height:1px;background:#9a9cb0"></div>
<svg class="abs" style="left:263px;top:656px" width="9" height="12" viewBox="0 0 9 12"><path d="M7 1L2 6l5 5" stroke="#f4f4fa" stroke-width="1.800" fill="none"/></svg>
<div class="abs" style="left:304px;top:640px;width:260px;height:32px;border-radius:8px;background:#41435a"></div>
<svg class="abs" style="left:304px;top:657px" width="260" height="12" viewBox="304 657 260 12"><g stroke="#f0f0f6" stroke-width="1.600" fill="none">
<path d="M315.500 654v10.500h12V654M321.500 654v6.500l2-1.500 2 1.500V654"/><path d="M337 658l5.500 5"/><path d="M385.500 663l5.500-5"/>
<path d="M404.500 654v10h7V654"/><path d="M425.500 660.500h11M431 660.500v5"/><path d="M450.500 654v6h8.500v-6M453.500 657.500h5.800v6.800h-5"/><path d="M476.800 654v11"/><path d="M498.200 654v8" stroke-width="2"/><path d="M494.500 659.500l3.700 4.500 3.700-4.500z" fill="#f0f0f6" stroke-width=".8"/><path d="M516 654v9.800h14V654M523 654v9.800M525.500 659h4.500"/><path d="M544 654v10h9V654"/></g>
<text x="355.500" y="663.500" font-size="9.500" fill="#f0f0f6" font-family="Liberation Sans, sans-serif" letter-spacing="1">1/8</text></svg>
<div class="abs" style="left:812px;top:640px;width:177px;height:32px;border-radius:8px;background:#41435a"></div>
<svg class="abs" style="left:812px;top:657px" width="177" height="12" viewBox="812 657 177 12"><g stroke="#f0f0f6" stroke-width="1.500" fill="none">
<path d="M824.500 654v6.500h6V654M827.500 658h6v6.800h-5"/><path d="M845 658.500l3.500 3M851 657l3 3" stroke-width="1.800"/><path d="M865.500 661.500l3.500-3M871.500 660l3-3" stroke-width="1.800"/>
<circle cx="893.500" cy="658.800" r="5.300"/><path d="M890.500 658.800h6"/><path d="M932 660.300h7.500" stroke-width="2"/><circle cx="953.800" cy="658.800" r="5.300"/><path d="M950.800 658.800h6M953.800 655.800v6"/>
<path d="M969.500 654v5.500a4 4 0 0 0 8 0V654"/></g>
<text x="909.500" y="663" font-size="9.300" fill="#f0f0f6" font-family="Liberation Sans, sans-serif">50%</text></svg>
<!--/BOTTOM-->
<!--RIGHT-->
<div class="abs" style="left:992px;top:101px;width:208px;height:574px;background:#41435a"></div>
<div class="abs" style="left:992px;top:101px;width:208px;height:25.700px;background:#363849"></div>
<div class="abs" id="insp" style="left:1072.400px;top:106px;font-size:11.700px;line-height:16px;color:#fff;white-space:nowrap;-webkit-text-stroke:0.300px #fff">Inspector</div>
<div class="abs" style="left:1010px;top:110px;width:174px;height:29px;border:1px solid #b9b9cb;border-radius:4px;clip-path:inset(16px 0 0 0)"></div>
<div class="abs" style="left:1100px;top:126.700px;width:90px;height:8px;overflow:hidden"><div class="abs" id="flt" style="left:38px;top:-5px;font-size:9px;line-height:12px;color:#eeeef6;font-weight:700;white-space:nowrap">Filter</div><svg class="abs" style="left:16px;top:-5px" width="10" height="10" viewBox="0 0 10 10"><path d="M0 1.500h8L5 5.500v3.500L3 8V5.500z" fill="#eeeef6"/><circle cx="8.500" cy="8.300" r="1.100" fill="#eeeef6"/></svg></div>
<div class="sm" style="left:1110px;top:150px">Blend Mode</div>
<div class="inp sel" style="left:1109px;top:164px;width:76px;font-size:10.700px">Luminosity</div>
<div class="abs" style="left:992px;top:194px;width:208px;height:23px;background:#363849"></div>
<svg class="abs" style="left:1177px;top:202px" width="10" height="7" viewBox="0 0 10 7"><path d="M1 6l4-4 4 4" stroke="#f4f4fa" stroke-width="1.500" fill="none"/></svg>
<div class="sm" style="left:1111px;top:228px">Position Y</div>
<div class="inp sel" style="left:1109px;top:242px;width:76px;font-size:10.700px">2186.25</div>
<div class="sm" style="left:1111px;top:271px">Height</div>
<div class="inp sel" style="left:1109px;top:285px;width:76px;font-size:10.700px">1286.25</div>
<svg class="abs" style="left:1094px;top:289px" width="10" height="10" viewBox="0 0 10 10"><path d="M5 1.500h1.500a3.500 3.500 0 0 1 0 7H5" stroke="#e4e4ee" stroke-width="1.400" fill="none"/></svg>
<div class="abs" style="left:1099px;top:322px;width:23px;height:23px;border-radius:50%;background:#e2e2ea"></div>
<div class="abs" style="left:1110px;top:332px;width:2px;height:2px;border-radius:50%;background:#888"></div>
<div class="abs" style="left:1115px;top:338px;width:3px;height:3px;border-radius:50%;background:#e8504a"></div>
<svg class="abs" style="left:1135px;top:325px" width="16" height="17" viewBox="0 0 16 17"><path d="M1.500 6V2.500C1.500 1.900 1.900 1.500 2.500 1.500h11c.6 0 1 .4 1 1V6" stroke="#f0f0f6" stroke-width="1.500" fill="none"/><path d="M0 8.500h16" stroke="#f0f0f6" stroke-width="1.300"/><path d="M1.500 11v3.500c0 .6.400 1 1 1h11c.6 0 1-.4 1-1V11" stroke="#f0f0f6" stroke-width="1.300" fill="none" stroke-dasharray="1.500 1.500"/></svg>
<svg class="abs" style="left:1163px;top:325px" width="17" height="16" viewBox="0 0 17 16"><path d="M6 1.500H2.500c-.6 0-1 .4-1 1v11c0 .6.400 1 1 1H6" stroke="#f0f0f6" stroke-width="1.500" fill="none"/><path d="M8.500 0v16" stroke="#f0f0f6" stroke-width="1.300"/><path d="M11 1.500h3.500c.6 0 1 .4 1 1v11c0 .6-.4 1-1 1H11" stroke="#f0f0f6" stroke-width="1.300" fill="none" stroke-dasharray="1.500 1.500"/></svg>
<div class="abs" style="left:992px;top:358px;width:208px;height:23px;background:#363849"></div>
<svg class="abs" style="left:1177px;top:366px" width="10" height="7" viewBox="0 0 10 7"><path d="M1 6l4-4 4 4" stroke="#f4f4fa" stroke-width="1.500" fill="none"/></svg>
<div class="sm" style="left:1144px;top:389px">Size</div>
<div class="inp sel" style="left:1142px;top:403px;width:43px;font-size:10.700px">30.88</div>
<div class="inp sel" style="left:1059px;top:403px;width:71px;font-size:10.700px"></div>
<div class="sm" style="left:1094.500px;top:431px">Character</div>
<div class="sm" style="left:1144px;top:431px">Line</div>
<div class="inp sel" style="left:1059px;top:446px;width:71px;font-size:10.700px;text-align:right;padding-right:19px">5.38</div>
<div class="inp sel" style="left:1142px;top:446px;width:43px;font-size:10.700px">1.2</div>
<svg class="abs" style="left:1099px;top:480px" width="13" height="14" viewBox="0 0 13 14"><rect x="1.500" y="1.500" width="10" height="11" stroke="#f0f0f6" stroke-width="1.200" fill="none"/><rect x="0" y="0" width="3" height="3" fill="#f0f0f6"/><rect x="10" y="0" width="3" height="3" fill="#f0f0f6"/><rect x="0" y="11" width="3" height="3" fill="#f0f0f6"/><rect x="10" y="11" width="3" height="3" fill="#f0f0f6"/><path d="M4 4.500h5M6.500 4.500v5.500" stroke="#f0f0f6" stroke-width="1.200"/></svg>
<div class="abs" style="left:1118px;top:476px;width:68px;height:23px;border:1px solid #b9b9cb;border-radius:4px"></div>
<svg class="abs" style="left:1122px;top:482px" width="11" height="11" viewBox="0 0 11 11"><path d="M2 10L5.500 1 9 10M3.300 7h4.400" stroke="#f0f0f6" stroke-width="1.300" fill="none"/><circle cx="5.500" cy="5" r="1" stroke="#f0f0f6" stroke-width=".8" fill="none"/></svg>
<div class="abs" id="otx" style="left:1136px;top:481px;font-size:8.500px;line-height:12px;color:#f4f4fa;-webkit-text-stroke:0.350px #f4f4fa;white-space:nowrap">Outline Text</div>
<div class="abs" style="left:1118px;top:516px;width:68px;height:23px;border:1px solid #b9b9cb;border-radius:4px"></div>
<svg class="abs" style="left:1128px;top:522px" width="11" height="11" viewBox="0 0 15 15"><path d="M9.600.8l4.600 4.600-1.700 1.100-1.600 4.700L2 14l-.9-.9L5.800 8.500a1.300 1.300 0 1 0-1-.9L.4 12.200l2.500-8.900 4.800-1.500z" fill="#f0f0f6"/></svg>
<div class="abs" id="epx" style="left:1142px;top:521px;font-size:8.500px;line-height:12px;color:#f4f4fa;-webkit-text-stroke:0.350px #f4f4fa;white-space:nowrap">Edit Path</div>
<div class="sm" style="left:1104px;top:547px">Offset</div>
<div class="sm" style="left:1151px;top:547px">Scale</div>
<div class="inp sel" style="left:1094px;top:562px;width:43px;font-size:10.700px;padding-left:9px">2.2</div>
<div class="inp sel" style="left:1149px;top:562px;width:35px;font-size:10.700px">1.2</div>
<div class="abs" style="left:1060px;top:592px;width:125px;height:23px;border:1px solid #b9b9cb;border-radius:4px"></div>
<svg class="abs" style="left:1111px;top:599px" width="10" height="10" viewBox="0 0 10 10"><circle cx="5" cy="5" r="4.200" stroke="#f0f0f6" stroke-width="1.200" fill="none"/><path d="M2.800 5h4.400" stroke="#f0f0f6" stroke-width="1.200"/></svg>
<div class="abs" id="tpx" style="left:1126px;top:597px;font-size:8.500px;line-height:12px;color:#f4f4fa;-webkit-text-stroke:0.350px #f4f4fa;white-space:nowrap">Text in Path</div>
<div class="abs" id="atx" style="left:1040px;top:623px;width:138px;text-align:right;font-size:8.400px;line-height:12px;color:#ffb45e;-webkit-text-stroke:0.350px #ffb45e;white-space:nowrap">path to active buttons.</div>
<div class="abs" style="left:992px;top:646px;width:208px;height:1px;background:#5b5d73"></div>
<svg class="abs" style="left:1126px;top:655px" width="13" height="12" viewBox="0 0 13 12"><path d="M1 8.500L0 2.500l3.500 2.800L6.500.5l3 4.800L13 2.500l-1 6z" fill="#ffb45e"/><rect x="1" y="9.800" width="11" height="1.800" fill="#ffb45e"/></svg>
<div class="abs" id="tpr" style="left:1144px;top:655px;font-size:8.400px;line-height:12px;color:#ffb45e;white-space:nowrap">Try Premium</div>
<svg class="abs" style="left:1002px;top:657px" width="8" height="12" viewBox="0 0 8 12"><path d="M1.500 1l5 5-5 5" stroke="#f4f4fa" stroke-width="1.800" fill="none"/></svg>
<!--/RIGHT-->
<!--MODAL-->
<div id="modal"><div id="mtitle">Chart</div></div>
<!-- chart type list icons -->
<svg class="abs" style="left:130px;top:126px" width="15" height="14" viewBox="0 0 15 14"><g fill="#ffb45e"><rect x="0" y=".5" width="2" height="13.500"/><rect x="0" y="12.500" width="15" height="1.500"/><rect x="3.250" y="5.750" width="2.750" height="7"/><rect x="7.250" y="2.750" width="3.250" height="10"/><rect x="11.750" y="8.750" width="3.250" height="4"/></g></svg>
<svg class="abs" style="left:130px;top:161px" width="14" height="15" viewBox="0 0 14 15"><path d="M.8 0v14.200H14" stroke="#e4e4ee" stroke-width="1.600" fill="none"/><rect x="1.600" y="1.200" width="6" height="2.600" fill="#e4e4ee"/><rect x="1.600" y="5.200" width="10" height="2.600" fill="#e4e4ee"/><rect x="1.600" y="9.200" width="7.500" height="2.600" fill="#e4e4ee"/></svg>
<svg class="abs" style="left:130px;top:196px" width="15" height="15" viewBox="0 0 15 15"><path d="M6.800.4v14.200A7.100 7.100 0 0 1 6.800.4z" fill="#e4e4ee"/><path d="M8.200.4a7.100 7.100 0 0 1 6.400 6.400H8.200z" fill="#e4e4ee"/><path d="M8.200 8.200h6.400a7.100 7.100 0 0 1-6.400 6.400z" fill="#e4e4ee"/></svg>
<svg class="abs" style="left:130px;top:232px" width="15" height="15" viewBox="0 0 15 15"><rect x=".8" y=".8" width="13.400" height="13.400" rx="1.500" stroke="#e4e4ee" stroke-width="1.500" fill="none"/><path d="M3.300 4.600h8.400M3.300 7.500h5.400M3.300 10.400h7" stroke="#e4e4ee" stroke-width="1.500"/></svg>
<svg class="abs" style="left:130px;top:267px" width="15" height="15" viewBox="0 0 15 15"><circle cx="7.500" cy="7.500" r="5.500" stroke="#e4e4ee" stroke-width="3.400" fill="none" stroke-dasharray="9.500 1.300 7 1.300 8 1.300 5.300 1.300" transform="rotate(-60 7.500 7.500)"/></svg>
<svg class="abs" style="left:130px;top:302px" width="15" height="15" viewBox="0 0 15 15"><circle cx="7.500" cy="7.500" r="6.600" stroke="#e4e4ee" stroke-width="1.500" fill="none"/><path d="M2.300 6.800a5.300 5.300 0 0 1 10.400 0z" fill="#e4e4ee"/></svg>
<svg class="abs" style="left:130px;top:337px" width="15" height="15" viewBox="0 0 15 15"><path d="M.8 0v14.200H15" stroke="#e4e4ee" stroke-width="1.600" fill="none"/><circle cx="5.300" cy="9.600" r="1.900" fill="#e4e4ee"/><circle cx="8.400" cy="3.800" r="1.900" fill="#e4e4ee"/><circle cx="12" cy="9" r="1.900" fill="#e4e4ee"/></svg>
<svg class="abs" style="left:130px;top:372px" width="15" height="14" viewBox="0 0 15 14"><path d="M.8 0v13.200H15" stroke="#e4e4ee" stroke-width="1.600" fill="none"/><path d="M2.500 10.500l3.500-5 3 2.800 4.500-6" stroke="#e4e4ee" stroke-width="1.400" fill="none"/></svg>
<svg class="abs" style="left:130px;top:407px" width="15" height="15" viewBox="0 0 15 15"><circle cx="7.500" cy="7.500" r="6.600" stroke="#e4e4ee" stroke-width="1.500" fill="none"/><path d="M7.500 3.500a4 4 0 0 1 3.800 2.800M10.800 9.800a4 4 0 0 1-6 1M3.700 8.800A4 4 0 0 1 5.300 4.200" stroke="#e4e4ee" stroke-width="1.700" fill="none"/></svg>
<svg class="abs" style="left:130px;top:443px" width="15" height="15" viewBox="0 0 15 15"><circle cx="7.500" cy="7.500" r="6.600" stroke="#e4e4ee" stroke-width="1.500" fill="none"/><path d="M3.200 11.500h8.600a5.300 5.300 0 0 0 .8-2.600H2.400a5.300 5.300 0 0 0 .8 2.600z" fill="#e4e4ee"/><path d="M7.300 8.200l2.600-4" stroke="#e4e4ee" stroke-width="1.400"/><circle cx="4" cy="6" r=".7" fill="#e4e4ee"/><circle cx="6.300" cy="3.800" r=".7" fill="#e4e4ee"/><circle cx="11.200" cy="6.300" r=".7" fill="#e4e4ee"/></svg>
<svg class="abs" style="left:130px;top:477px" width="15" height="15" viewBox="0 0 15 15"><path d="M9.800 1.300a6.600 6.600 0 1 1-4.600 0" stroke="#e4e4ee" stroke-width="1.500" fill="none"/><path d="M9.500 4.600a3.500 3.500 0 1 1-4 0" stroke="#e4e4ee" stroke-width="1.500" fill="none"/><path d="M7.500 1v6.800" stroke="#e4e4ee" stroke-width="1.600"/></svg>
<svg class="abs" style="left:129px;top:512px" width="17" height="11" viewBox="0 0 17 11"><path d="M0 1h17M3.500 5.300h10M6.800 9.600h3.400" stroke="#e4e4ee" stroke-width="1.700"/></svg>
<svg class="abs" style="left:130px;top:543px" width="15" height="15" viewBox="0 0 15 15"><path d="M7.500 1.300l1.800 4.400 4.700.3-3.600 3 1.200 4.600-4.100-2.600-4.100 2.600L4.600 9 1 6l4.700-.3z" stroke="#e4e4ee" stroke-width="1.400" fill="none" stroke-linejoin="round"/><path d="M7.500 4.500v7l-1.500 1V6z" fill="#e4e4ee"/></svg>
<svg class="abs" style="left:130px;top:578px" width="14" height="15" viewBox="0 0 14 15"><circle cx="3.500" cy="1.600" r="1.500" fill="#e4e4ee"/><path d="M1.300 3.600h4.400c.4 0 .7.300.7.700v4.500H5.300V15H1.700V8.800H.6V4.300c0-.4.300-.7.700-.7z" fill="#e4e4ee"/><circle cx="10.500" cy="1.600" r="1.500" fill="#e4e4ee"/><path d="M8.300 3.600h4.400c.4 0 .7.300.7.700v4.500h-1.100V15H8.700V8.800H7.600V4.300c0-.4.300-.7.700-.7z" fill="#e4e4ee"/></svg>
<svg class="abs" style="left:130px;top:614px" width="15.500" height="11" viewBox="0 0 24 17"><path d="M19.350 6.540A7.490 7.490 0 0 0 12 .5C9.110.5 6.600 2.140 5.350 4.540A5.994 5.994 0 0 0 0 10.500c0 3.310 2.690 6 6 6h13c2.760 0 5-2.240 5-5 0-2.640-2.050-4.780-4.650-4.960z" fill="#e4e4ee"/><path d="M10 7l-3 3 3 3M14 7l3 3-3 3" stroke="#40425a" stroke-width="1.800" fill="none"/></svg>
<div class="ct" style="top:140.6px;color:#ffb45e">Column</div>
<div class="ct" style="top:175.8px">Bar</div>
<div class="ct" style="top:210.6px">Pie</div>
<div class="ct" style="top:246.1px">Percentage Bar</div>
<div class="ct" style="top:281.6px">Ring</div>
<div class="ct" style="top:316.8px">Half Ring</div>
<div class="ct" style="top:352.4px">Line</div>
<div class="ct" style="top:384.8px">Scatter</div>
<div class="ct" style="top:421.4px">Donut</div>
<div class="ct" style="top:457.1px">Gauge</div>
<div class="ct" style="top:491.8px">Radar</div>
<div class="ct" style="top:521.8px">Funnel</div>
<div class="ct" style="top:557.1px">Pictorial Bar 1</div>
<div class="ct" style="top:593.1px">Pictorial Bar 2</div>
<div class="ct" style="top:624.4px">Word Cloud</div>
<!-- preview card -->
<div class="card" style="left:176px;top:127px;width:266px;height:266px"></div>
<svg class="abs" style="left:176px;top:127px" width="266" height="266" viewBox="176 127 266 266" font-family="Liberation Sans, sans-serif">
<defs><linearGradient id="gg" gradientUnits="userSpaceOnUse" x1="0" y1="166" x2="0" y2="341"><stop offset="0" stop-color="#3bbcf7"/><stop offset=".5" stop-color="#6f84da"/><stop offset="1" stop-color="#9340c2"/></linearGradient></defs>
<g fill="#f0f0f0"><rect x="231" y="147" width="20" height="194"/><rect x="259.800" y="147" width="20" height="194"/><rect x="288.600" y="147" width="20" height="194"/><rect x="317.400" y="147" width="20" height="194"/><rect x="346.200" y="147" width="20" height="194"/><rect x="375" y="147" width="20" height="194"/></g>
<g fill="url(#gg)"><rect x="231" y="317" width="20" height="24"/><rect x="259.800" y="244" width="20" height="97"/><rect x="288.600" y="166.400" width="20" height="174.600"/><rect x="317.400" y="292.500" width="20" height="48.500"/><rect x="346.200" y="292.500" width="20" height="48.500"/><rect x="375" y="244" width="20" height="97"/></g>
<path d="M226.500 148v193.500H397" stroke="#222" stroke-width=".8" fill="none"/>
<path d="M224 150.500l2.500-4.500 2.500 4.500zM394.500 339l4.500 2.500-4.500 2.500z" fill="#111"/>
<path d="M223.500 195.500h3M223.500 244h3M223.500 292.500h3" stroke="#222" stroke-width=".7"/>
<g font-size="7.200" fill="#111" text-anchor="end"><text x="215.500" y="149.500">40</text><text x="215.500" y="198">30</text><text x="215.500" y="246.500">20</text><text x="215.500" y="295">10</text><text x="215.500" y="343.500">0</text></g>
<g font-size="7.200" fill="#111" text-anchor="middle"><text x="241" y="314">5</text><text x="269.800" y="241">20</text><text x="298.600" y="163.500">36</text><text x="327.400" y="289.500">10</text><text x="356.200" y="289.500">10</text><text x="385" y="241">20</text><text x="241" y="356.500">Shirt</text><text x="298.600" y="356.500">T-Shirt</text><text x="356.200" y="356.500">Short</text></g>
<rect x="298.500" y="374" width="8.500" height="5.500" rx="1" fill="#3bbcf7"/><text x="309" y="379.500" font-size="7" fill="#222">Sales</text>
</svg>
<div class="abs" style="left:176px;top:398px;width:266px;text-align:center;font-size:9.500px;line-height:14px;color:#f0f0f6;font-weight:700;white-space:nowrap" id="sttl">Style Templates</div>
<div class="card" style="left:176px;top:418px;width:266px;height:233px"></div>
<!--THUMBS-->
<svg class="abs" style="left:176px;top:418px" width="266" height="233" viewBox="176 418 266 233" font-family="Liberation Sans, sans-serif">
<defs><linearGradient id="g1" x1="0" y1="0" x2="1" y2="0"><stop offset="0" stop-color="#e9ea5c"/><stop offset="1" stop-color="#74c52f"/></linearGradient><linearGradient id="g4" gradientUnits="userSpaceOnUse" x1="0" y1="516" x2="0" y2="556"><stop offset="0" stop-color="#2fb4f2"/><stop offset="1" stop-color="#8a3cc0"/></linearGradient><linearGradient id="g6" gradientUnits="userSpaceOnUse" x1="0" y1="585" x2="0" y2="621"><stop offset="0" stop-color="#16b4e2"/><stop offset="1" stop-color="#5b38bf"/></linearGradient></defs>
<rect x="213.2" y="441.5" width="10.200" height="39.500" rx="5.100" fill="#efefef"/><rect x="227.9" y="441.5" width="10.200" height="39.500" rx="5.100" fill="#efefef"/><rect x="242.4" y="441.5" width="10.200" height="39.500" rx="5.100" fill="#efefef"/><rect x="257.1" y="441.5" width="10.200" height="39.500" rx="5.100" fill="#efefef"/><rect x="271.7" y="441.5" width="10.200" height="39.500" rx="5.100" fill="#efefef"/><rect x="213.2" y="465" width="10.200" height="15.5" rx="5.100" fill="url(#g1)"/><rect x="216.7" y="462.8" width="3" height=".7" fill="#777"/><rect x="215.7" y="483.300" width="5" height=".7" fill="#888"/><rect x="227.9" y="457.2" width="10.200" height="23.3" rx="5.100" fill="url(#g1)"/><rect x="231.4" y="455.0" width="3" height=".7" fill="#777"/><rect x="230.4" y="483.300" width="5" height=".7" fill="#888"/><rect x="242.4" y="445.3" width="10.200" height="35.2" rx="5.100" fill="url(#g1)"/><rect x="245.9" y="443.1" width="3" height=".7" fill="#777"/><rect x="244.9" y="483.300" width="5" height=".7" fill="#888"/><rect x="257.1" y="469.7" width="10.200" height="10.8" rx="5.100" fill="url(#g1)"/><rect x="260.6" y="467.5" width="3" height=".7" fill="#777"/><rect x="259.6" y="483.300" width="5" height=".7" fill="#888"/><rect x="271.7" y="469" width="10.200" height="11.5" rx="5.100" fill="url(#g1)"/><rect x="275.2" y="466.8" width="3" height=".7" fill="#777"/><rect x="274.2" y="483.300" width="5" height=".7" fill="#888"/><path d="M211.300 441.500v40H284" stroke="#666" stroke-width=".7" fill="none"/><rect x="207.800" y="441.2" width="2" height=".6" fill="#888"/><rect x="207.800" y="449.2" width="2" height=".6" fill="#888"/><rect x="207.800" y="457.2" width="2" height=".6" fill="#888"/><rect x="207.800" y="465.2" width="2" height=".6" fill="#888"/><rect x="207.800" y="473.2" width="2" height=".6" fill="#888"/><rect x="207.800" y="481.2" width="2" height=".6" fill="#888"/><circle cx="245.500" cy="487.700" r="1" fill="#9ccf3c"/><rect x="247.500" y="487.300" width="3.500" height=".7" fill="#888"/>
<path d="M338.800 443.800v34.500" stroke="#999" stroke-width=".5"/><path d="M338.800 478.400h67" stroke="#a8d4e6" stroke-width=".7"/><rect x="342.0" y="474" width="7" height="4.0" rx="2.0" fill="#c01f2b"/><rect x="344.8" y="472.2" width="1.400" height=".6" fill="#999"/><rect x="343.5" y="481" width="4" height=".6" fill="#aaa"/><rect x="352.9" y="461.6" width="7" height="16.4" rx="3.5" fill="#c01f2b"/><rect x="355.7" y="459.8" width="1.400" height=".6" fill="#999"/><rect x="354.4" y="481" width="4" height=".6" fill="#aaa"/><rect x="363.7" y="447.6" width="7" height="30.4" rx="3.5" fill="#c01f2b"/><rect x="366.5" y="445.8" width="1.400" height=".6" fill="#999"/><rect x="365.2" y="481" width="4" height=".6" fill="#aaa"/><rect x="374.5" y="469.9" width="7" height="8.1" rx="3.5" fill="#c01f2b"/><rect x="377.3" y="468.1" width="1.400" height=".6" fill="#999"/><rect x="376.0" y="481" width="4" height=".6" fill="#aaa"/><rect x="385.4" y="469.9" width="7" height="8.1" rx="3.5" fill="#c01f2b"/><rect x="388.2" y="468.1" width="1.400" height=".6" fill="#999"/><rect x="386.9" y="481" width="4" height=".6" fill="#aaa"/><rect x="396.2" y="461.6" width="7" height="16.4" rx="3.5" fill="#c01f2b"/><rect x="399.0" y="459.8" width="1.400" height=".6" fill="#999"/><rect x="397.7" y="481" width="4" height=".6" fill="#aaa"/><rect x="336" y="444.2" width="1.500" height=".6" fill="#aaa"/><rect x="336" y="452.7" width="1.500" height=".6" fill="#aaa"/><rect x="336" y="461.2" width="1.500" height=".6" fill="#aaa"/><rect x="336" y="469.7" width="1.500" height=".6" fill="#aaa"/><rect x="336" y="478.0" width="1.500" height=".6" fill="#aaa"/><rect x="331.300" y="459" width=".6" height="3" fill="#aaa"/><circle cx="368.500" cy="487" r=".8" fill="#c01f2b"/><rect x="370" y="486.700" width="3.500" height=".6" fill="#999"/>
<rect x="214" y="520" width="67" height=".4" fill="#e6e6e6"/><rect x="209" y="519.7" width="2.500" height=".6" fill="#999"/><rect x="214" y="525.6" width="67" height=".4" fill="#e6e6e6"/><rect x="209" y="525.3000000000001" width="2.500" height=".6" fill="#999"/><rect x="214" y="531.2" width="67" height=".4" fill="#e6e6e6"/><rect x="209" y="530.9000000000001" width="2.500" height=".6" fill="#999"/><rect x="214" y="536.8" width="67" height=".4" fill="#e6e6e6"/><rect x="209" y="536.5" width="2.500" height=".6" fill="#999"/><rect x="214" y="542.4" width="67" height=".4" fill="#e6e6e6"/><rect x="209" y="542.1" width="2.500" height=".6" fill="#999"/><rect x="214" y="548" width="67" height=".4" fill="#e6e6e6"/><rect x="209" y="547.7" width="2.500" height=".6" fill="#999"/><rect x="217" y="535.5" width="11.500" height="12.5" fill="#0f7ee9"/><rect x="218.5" y="551.500" width="8.500" height=".7" fill="#888"/><rect x="233.7" y="524.5" width="11.500" height="23.5" fill="#0f7ee9"/><rect x="235.2" y="551.500" width="8.500" height=".7" fill="#888"/><rect x="250.2" y="529" width="11.500" height="19.0" fill="#0f7ee9"/><rect x="251.7" y="551.500" width="8.500" height=".7" fill="#888"/><rect x="266.9" y="523" width="11.500" height="25.0" fill="#0f7ee9"/><rect x="268.4" y="551.500" width="8.500" height=".7" fill="#888"/><rect x="238.700" y="517" width="4.500" height="2.300" fill="#0f7ee9"/><rect x="244.500" y="517.800" width="11.500" height=".8" fill="#777"/>
<rect x="336.8" y="512.500" width="7.700" height="43" fill="#efefef"/><rect x="348.6" y="512.500" width="7.700" height="43" fill="#efefef"/><rect x="360.4" y="512.500" width="7.700" height="43" fill="#efefef"/><rect x="372.2" y="512.500" width="7.700" height="43" fill="#efefef"/><rect x="384" y="512.500" width="7.700" height="43" fill="#efefef"/><rect x="395.8" y="512.500" width="7.700" height="43" fill="#efefef"/><rect x="336.8" y="550.2" width="7.700" height="5.3" fill="url(#g4)"/><rect x="339.8" y="548.4" width="1.700" height=".6" fill="#666"/><rect x="338.8" y="558.200" width="4" height=".6" fill="#999"/><rect x="348.6" y="534" width="7.700" height="21.5" fill="url(#g4)"/><rect x="351.6" y="532.2" width="1.700" height=".6" fill="#666"/><rect x="350.6" y="558.200" width="4" height=".6" fill="#999"/><rect x="360.4" y="516.7" width="7.700" height="38.8" fill="url(#g4)"/><rect x="363.4" y="514.9" width="1.700" height=".6" fill="#666"/><rect x="362.4" y="558.200" width="4" height=".6" fill="#999"/><rect x="372.2" y="544.7" width="7.700" height="10.8" fill="url(#g4)"/><rect x="375.2" y="542.9" width="1.700" height=".6" fill="#666"/><rect x="374.2" y="558.200" width="4" height=".6" fill="#999"/><rect x="384" y="544.7" width="7.700" height="10.8" fill="url(#g4)"/><rect x="387" y="542.9" width="1.700" height=".6" fill="#666"/><rect x="386" y="558.200" width="4" height=".6" fill="#999"/><rect x="395.8" y="534" width="7.700" height="21.5" fill="url(#g4)"/><rect x="398.8" y="532.2" width="1.700" height=".6" fill="#666"/><rect x="397.8" y="558.200" width="4" height=".6" fill="#999"/><path d="M334.500 511.500v44.300H406" stroke="#111" stroke-width="1" fill="none"/><rect x="331" y="511.7" width="1.800" height=".6" fill="#888"/><rect x="331" y="522.7" width="1.800" height=".6" fill="#888"/><rect x="331" y="533.7" width="1.800" height=".6" fill="#888"/><rect x="331" y="544.7" width="1.800" height=".6" fill="#888"/><rect x="331" y="555.2" width="1.800" height=".6" fill="#888"/><rect x="367" y="562.800" width="2" height="1.200" fill="#2fb4f2"/><rect x="369.600" y="563.100" width="3.500" height=".6" fill="#999"/>
<rect x="203" y="579" width="90.300" height="49" fill="#2d2d2d"/><rect x="220" y="583.800" width="7.300" height="39.200" fill="#4b4b4b"/><rect x="230.85" y="583.800" width="7.300" height="39.200" fill="#4b4b4b"/><rect x="241.7" y="583.800" width="7.300" height="39.200" fill="#4b4b4b"/><rect x="252.55" y="583.800" width="7.300" height="39.200" fill="#4b4b4b"/><rect x="263.4" y="583.800" width="7.300" height="39.200" fill="#4b4b4b"/><rect x="274.25" y="583.800" width="7.300" height="39.200" fill="#4b4b4b"/><rect x="220" y="618.3" width="7.300" height="4.7" fill="#ffd400"/><rect x="222.8" y="616.7" width="1.700" height=".7" fill="#ddd"/><rect x="221.5" y="625.700" width="4.300" height=".9" fill="#eee"/><rect x="230.85" y="603.5" width="7.300" height="19.5" fill="#ffd400"/><rect x="233.65" y="601.9" width="1.700" height=".7" fill="#ddd"/><rect x="232.35" y="625.700" width="4.300" height=".9" fill="#eee"/><rect x="241.7" y="587.8" width="7.300" height="35.2" fill="#ffd400"/><rect x="244.5" y="586.2" width="1.700" height=".7" fill="#ddd"/><rect x="243.2" y="625.700" width="4.300" height=".9" fill="#eee"/><rect x="252.55" y="613.5" width="7.300" height="9.5" fill="#ffd400"/><rect x="255.35000000000002" y="611.9" width="1.700" height=".7" fill="#ddd"/><rect x="254.05" y="625.700" width="4.300" height=".9" fill="#eee"/><rect x="263.4" y="613.5" width="7.300" height="9.5" fill="#ffd400"/><rect x="266.2" y="611.9" width="1.700" height=".7" fill="#ddd"/><rect x="264.9" y="625.700" width="4.300" height=".9" fill="#eee"/><rect x="274.25" y="603.5" width="7.300" height="19.5" fill="#ffd400"/><rect x="277.05" y="601.9" width="1.700" height=".7" fill="#ddd"/><rect x="275.75" y="625.700" width="4.300" height=".9" fill="#eee"/><rect x="214" y="583.6" width="1.800" height=".8" fill="#ddd"/><rect x="214" y="593.3000000000001" width="1.800" height=".8" fill="#ddd"/><rect x="214" y="603.1" width="1.800" height=".8" fill="#ddd"/><rect x="214" y="612.8000000000001" width="1.800" height=".8" fill="#ddd"/><rect x="214" y="622.6" width="1.800" height=".8" fill="#ddd"/><rect x="208.600" y="601.500" width=".8" height="3.500" fill="#eee"/>
<rect x="336.5" y="581" width="7.700" height="40.500" rx="3.850" fill="#efefef"/><rect x="348.4" y="581" width="7.700" height="40.500" rx="3.850" fill="#efefef"/><rect x="360.3" y="581" width="7.700" height="40.500" rx="3.850" fill="#efefef"/><rect x="372.2" y="581" width="7.700" height="40.500" rx="3.850" fill="#efefef"/><rect x="384.1" y="581" width="7.700" height="40.500" rx="3.850" fill="#efefef"/><rect x="396" y="581" width="7.700" height="40.500" rx="3.850" fill="#efefef"/><rect x="336.5" y="616.6" width="7.700" height="4.2" rx="2.10" fill="url(#g6)"/><rect x="339.5" y="614.8" width="1.700" height=".6" fill="#777"/><rect x="338.5" y="623.800" width="4" height=".6" fill="#999"/><rect x="348.4" y="601.2" width="7.700" height="19.6" rx="3.85" fill="url(#g6)"/><rect x="351.4" y="599.4" width="1.700" height=".6" fill="#777"/><rect x="350.4" y="623.800" width="4" height=".6" fill="#999"/><rect x="360.3" y="585" width="7.700" height="35.8" rx="3.85" fill="url(#g6)"/><rect x="363.3" y="583.2" width="1.700" height=".6" fill="#777"/><rect x="362.3" y="623.800" width="4" height=".6" fill="#999"/><rect x="372.2" y="611.6" width="7.700" height="9.2" rx="3.85" fill="url(#g6)"/><rect x="375.2" y="609.8" width="1.700" height=".6" fill="#777"/><rect x="374.2" y="623.800" width="4" height=".6" fill="#999"/><rect x="384.1" y="611.6" width="7.700" height="9.2" rx="3.85" fill="url(#g6)"/><rect x="387.1" y="609.8" width="1.700" height=".6" fill="#777"/><rect x="386.1" y="623.800" width="4" height=".6" fill="#999"/><rect x="396" y="601.2" width="7.700" height="19.6" rx="3.85" fill="url(#g6)"/><rect x="399" y="599.4" width="1.700" height=".6" fill="#777"/><rect x="398" y="623.800" width="4" height=".6" fill="#999"/><path d="M332 581v40.500h74" stroke="#888" stroke-width=".6" fill="none"/><rect x="329" y="581.2" width="1.600" height=".6" fill="#999"/><rect x="329" y="591.2" width="1.600" height=".6" fill="#999"/><rect x="329" y="601.2" width="1.600" height=".6" fill="#999"/><rect x="329" y="611.2" width="1.600" height=".6" fill="#999"/><rect x="329" y="621.0" width="1.600" height=".6" fill="#999"/><rect x="367.500" y="628" width="2.200" height="1.200" rx=".5" fill="#2a7fd0"/><rect x="370.300" y="628.300" width="3.500" height=".6" fill="#999"/>
</svg>
<!--/THUMBS-->
<!--SETTINGS-->
<div class="abs" style="left:451px;top:127px;width:633px;height:23px;border-radius:4px;background:#363849"></div>
<div class="abs" style="left:776px;top:127px;width:308px;height:23px;border-radius:0 4px 4px 0;background:#8b84b9"></div>
<svg class="abs" style="left:580px;top:134px" width="10" height="10" viewBox="0 0 10 10"><rect x=".6" y=".6" width="8.800" height="8.800" rx="1" stroke="#f0f0f6" stroke-width="1.200" fill="none"/><path d="M2.500 3.500h1M2.500 5.300h1M2.500 7.100h1M5 3.500h2.500M5 5.300h2.500M5 7.100h2.500" stroke="#f0f0f6" stroke-width="1"/></svg>
<div class="abs" id="tdata" style="left:598px;top:132px;font-size:9.500px;line-height:14px;color:#f4f4fa;font-weight:700;white-space:nowrap">Data</div>
<svg class="abs" style="left:901px;top:133px" width="11" height="11" viewBox="0 0 11 11"><path d="M0 2h6M8 2h3M0 5.500h2.500M4.500 5.500H11M0 9h5M7 9h4M7 .5v3M3.500 4v3M6 7.500v3" stroke="#fff" stroke-width="1.500" fill="none"/></svg>
<div class="abs" id="tset" style="left:920px;top:131.500px;font-size:9.500px;line-height:14px;color:#fff;font-weight:700;white-space:nowrap">Settings</div>
<div class="tg" style="left:499px;top:189.5px"><i></i><b></b></div>
<div class="lb" style="left:537px;top:191px">Title</div>
<div class="inp" style="left:600px;top:186px;width:122px">Title Name</div>
<div class="sm" style="left:730px;top:172px">Title Position</div>
<div class="inp sel" style="left:730px;top:186px;width:89px">Top</div>
<div class="sw" style="left:832px;top:184px;background:#d98f8e"></div>
<div class="tg" style="left:499px;top:238.0px"><i></i><b></b></div>
<div class="lb" style="left:537px;top:239.5px">Legend</div>
<div class="sm" style="left:600px;top:222px">Legend Position</div>
<div class="inp sel" style="left:600px;top:236px;width:88px">Bottom</div>
<div class="tg" style="left:499px;top:274.5px"><i></i><b></b></div>
<div class="lb" style="left:537px;top:276px">Axis</div>
<div class="tg" style="left:600px;top:274.5px"><i></i><b></b></div>
<div class="lb" style="left:638px;top:276px">Axis Line</div>
<div class="sw" style="left:684px;top:272px;background:#ffb45f"></div>
<div class="tg" style="left:729px;top:274.5px"><i></i><b></b></div>
<div class="lb" style="left:766px;top:276px">Axis Lable</div>
<div class="sw" style="left:817px;top:272px;background:#4a7bf7"></div>
<div class="abs" style="left:842px;top:272px;width:20px;height:20px;border-radius:50%;background:#cfcfd4"></div><div class="abs" style="left:851px;top:281px;width:2px;height:2px;border-radius:50%;background:#777"></div><div class="abs" style="left:855px;top:285px;width:2.500px;height:2.500px;border-radius:50%;background:#e8504a"></div>
<div class="tg" style="left:888px;top:274.5px"><i></i><b></b></div>
<div class="lb" style="left:925px;top:276px">Axis Arrow</div>
<div class="sm" style="left:600px;top:307.5px">Min Value</div>
<div class="inp sel" style="left:600px;top:321px;width:63px">2</div>
<div class="sm" style="left:680px;top:307.5px">Max Value</div>
<div class="inp sel" style="left:680px;top:321px;width:63px">100</div>
<div class="inp" style="left:764px;top:320px;width:106px">X Axis Title</div>
<div class="inp" style="left:890px;top:321px;width:106px">Y Axis Title</div>
<div class="tg" style="left:499px;top:368.0px"><i></i><b></b></div>
<div class="lb" style="left:537px;top:369.5px">Data Label</div>
<div class="sm" style="left:600px;top:354px">Position</div>
<div class="inp sel" style="left:600px;top:367px;width:63px">Top</div>
<div class="sm" style="left:678px;top:354px">Label Type</div>
<div class="inp sel" style="left:678px;top:367px;width:89px">Name &amp; Value</div>
<div class="inp" style="left:782px;top:366px;width:89px">Prefix</div>
<div class="inp" style="left:891px;top:367px;width:89px">Suffix</div>
<div class="tg" style="left:499px;top:415.0px"><i></i><b></b></div>
<div class="lb" style="left:537px;top:416.5px">Border</div>
<div class="sm" style="left:600px;top:401px">Width</div>
<div class="inp sel" style="left:600px;top:414px;width:63px">20</div>
<div class="sm" style="left:678px;top:401px">Radius</div>
<div class="inp sel" style="left:678px;top:414px;width:64px">5</div>
<div class="sw" style="left:757px;top:412px;background:#ff6766"></div>
<div class="tg" style="left:499px;top:450.5px"><i></i><b></b></div>
<div class="lb" style="left:537px;top:452px">Data Color</div>
<div class="tg" style="left:600px;top:450.5px"><i></i><b></b></div>
<div class="lb" style="left:638px;top:452px">Global Gradient</div>
<div class="sw" style="left:722.5px;top:448.5px;background:#ff6766"></div>
<div class="sw" style="left:749.2px;top:448.5px;background:#f7d2cd"></div>
<div class="sw" style="left:776.0px;top:448.5px;background:#88f7b8"></div>
<div class="sw" style="left:802.8px;top:448.5px;background:#f4f861"></div>
<div class="sw" style="left:829.5px;top:448.5px;background:#c86df6"></div>
<div class="sw" style="left:856.2px;top:448.5px;background:#ffa95f"></div>
<div class="sw" style="left:883.0px;top:448.5px;background:#ff6cc1"></div>
<div class="sw" style="left:909.8px;top:448.5px;background:#6cacff"></div>
<div class="lb" style="left:506px;top:493px">Specific Style:</div>
<div class="sm" style="left:603px;top:484px">Theme</div>
<div class="inp sel" style="left:603px;top:497px;width:88px">Default</div>
<div class="sm" style="left:704px;top:484px">Font</div>
<div class="inp sel" style="left:704px;top:497px;width:121px">Roboto Mono</div>
<div class="sm" style="left:837px;top:484px">Weight</div>
<div class="inp sel" style="left:837px;top:497px;width:67px">Semi Bold</div>
<div class="tg" style="left:603px;top:531.5px"><i></i><b></b></div>
<div class="lb" style="left:640px;top:533px">Grid</div>
<div class="tg" style="left:684px;top:531.5px"><i></i><b></b></div>
<div class="lb" style="left:722px;top:533px">Stacked</div>
<div class="tg" style="left:783px;top:531.5px"><i></i><b></b></div>
<div class="lb" style="left:821px;top:533px">Background</div>
<!--/SETTINGS-->
<!--/MODAL-->
</div>
</body>
</html>
